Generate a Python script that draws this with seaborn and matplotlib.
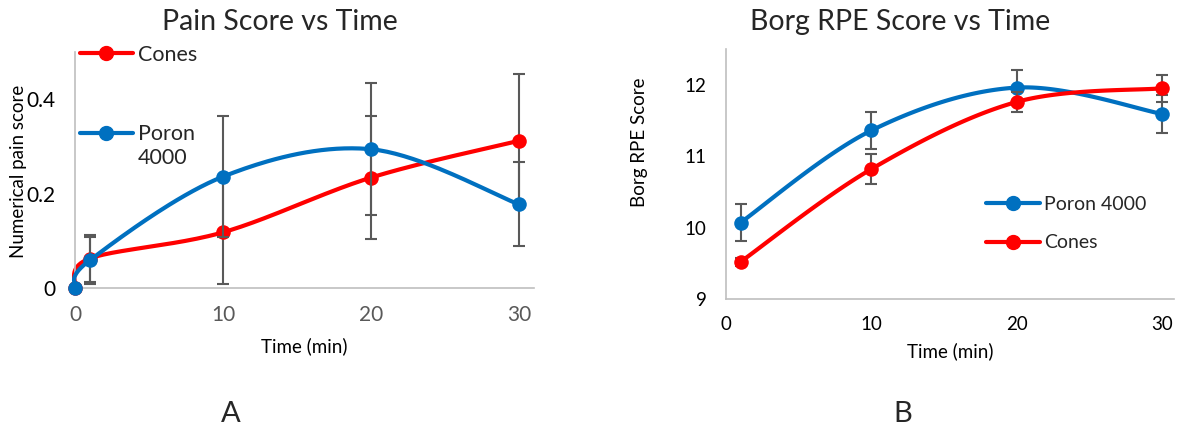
import numpy as np
import matplotlib
matplotlib.use("Agg")
import matplotlib.pyplot as plt
import seaborn as sns
from matplotlib.lines import Line2D
from matplotlib.legend_handler import HandlerLine2D

# ---- data ----
pain_time = [0, 1, 10, 20, 30]
pain_cones = [0, 0.0625, 0.118, 0.234, 0.312]
pain_cones_err = [0, 0.05, 0.11, 0.13, 0.141]
pain_poron = [0, 0.0588, 0.236, 0.294, 0.177]
pain_poron_err = [0, 0.05, 0.128, 0.14, 0.089]

borg_time = [1, 10, 20, 30]
borg_poron = [10.07, 11.36, 11.96, 11.59]
borg_poron_err = [0.26, 0.26, 0.25, 0.26]
borg_cones = [9.52, 10.82, 11.76, 11.95]
borg_cones_err = [0.06, 0.21, 0.14, 0.19]

RED = "#FF0000"
BLUE = "#0070C0"
ERR = "#595959"
SPINE = "#BFBFBF"

sns.set_theme(style="white")
plt.rcParams['font.family'] = ['Lato', 'DejaVu Sans']

W, H = 1185, 430


def px_axes(fig, left, top, right, bottom):
    return fig.add_axes([left / W, (H - bottom) / H, (right - left) / W, (bottom - top) / H])


def smooth(x, y, sx, sy, n=40):
    # Excel-style smoothed line: cubic bezier through points, built in screen units
    P = np.column_stack([np.asarray(x, float) * sx, np.asarray(y, float) * sy])
    pts = []
    for i in range(len(P) - 1):
        p0 = P[max(i - 1, 0)]
        p1, p2 = P[i], P[i + 1]
        p3 = P[min(i + 2, len(P) - 1)]
        c1 = p1 + (p2 - p0) / 6
        c2 = p2 - (p3 - p1) / 6
        t = np.linspace(0, 1, n)[:, None]
        seg = (1 - t) ** 3 * p1 + 3 * (1 - t) ** 2 * t * c1 + 3 * (1 - t) * t ** 2 * c2 + t ** 3 * p2
        pts.append(seg if i == 0 else seg[1:])
    pts = np.vstack(pts)
    return pts[:, 0] / sx, pts[:, 1] / sy


class ShiftedLine(HandlerLine2D):
    def __init__(self, shift, **kw):
        super().__init__(**kw)
        self.shift = shift

    def create_artists(self, legend, orig_handle, xdescent, ydescent, width, height, fontsize, trans):
        arts = super().create_artists(legend, orig_handle, xdescent, ydescent, width, height, fontsize, trans)
        for a in arts:
            a.set_ydata(np.asarray(a.get_ydata()) + self.shift)
        return arts


def draw_series(ax, x, y, err, color, sx, sy, z):
    xs, ys = smooth(x, y, sx, sy)
    sns.lineplot(x=xs, y=ys, ax=ax, color=color, lw=3, sort=False, estimator=None, zorder=z, clip_on=False)
    ax.errorbar(x, y, yerr=err, fmt='none', ecolor=ERR, elinewidth=1.5, capsize=4.3, capthick=1.5,
                zorder=z + 0.5, clip_on=False)
    sns.scatterplot(x=x, y=y, ax=ax, color=color, s=110, linewidth=0, zorder=z + 1, clip_on=False)


def style_axes(ax, tick_color_x, tick_color_y, fs):
    for s in ['top', 'right']:
        ax.spines[s].set_visible(False)
    for s in ['left', 'bottom']:
        ax.spines[s].set_color(SPINE)
        ax.spines[s].set_linewidth(1.2)
    ax.tick_params(axis='both', length=0, labelsize=fs)
    ax.tick_params(axis='x', colors=tick_color_x, pad=12)
    ax.tick_params(axis='y', colors=tick_color_y, pad=14)
    ax.grid(False)


fig = plt.figure(figsize=(W / 100, H / 100), dpi=100)

# ---------- A: pain score ----------
ax1 = px_axes(fig, 75, 52, 534, 288)
ax1.set_xlim(0, 31)
ax1.set_ylim(0, 0.5)
sx1 = (534 - 75) / 31
sy1 = (288 - 52) / 0.5
draw_series(ax1, pain_time, pain_cones, pain_cones_err, RED, sx1, sy1, 2)
draw_series(ax1, pain_time, pain_poron, pain_poron_err, BLUE, sx1, sy1, 5)
ax1.set_xticks([0, 10, 20, 30])
ax1.set_yticks([0, 0.2, 0.4])
ax1.set_yticklabels(['0', '0.2', '0.4'])
style_axes(ax1, ERR, 'black', 15)
ax1.set_xlabel('Time (min)', fontsize=13.5, color='black')
ax1.xaxis.set_label_coords(0.5, -0.245)
ax1.set_ylabel('Numerical pain score', fontsize=13.5, color='black')
ax1.yaxis.set_label_coords((19 - 75) / 459, (288 - 171) / 236)
ax1.yaxis.label.set_va('center')
ax1.xaxis.label.set_va('center')

h_cones = Line2D([], [], color=RED, lw=3, marker='o', markersize=10)
h_poron = Line2D([], [], color=BLUE, lw=3, marker='o', markersize=10)
lg_kw = dict(frameon=False, borderpad=0, borderaxespad=0, numpoints=1,
             bbox_transform=fig.transFigure, loc='center left')
leg_a1 = ax1.legend([h_cones], ['Cones'], fontsize=15.5, handlelength=2.45, handletextpad=0.25,
                    bbox_to_anchor=(80 / W, (H - 55) / H), **lg_kw)
ax1.add_artist(leg_a1)
ax1.legend([h_poron], ['Poron\n4000'], fontsize=15.5, handlelength=2.45, handletextpad=0.25,
           handler_map={h_poron: ShiftedLine(9.5)},
           bbox_to_anchor=(80 / W, (H - 146) / H), **lg_kw)

# ---------- B: Borg RPE ----------
ax2 = px_axes(fig, 726, 49, 1174, 299)
ax2.set_xlim(0, 30.8)
ax2.set_ylim(9, 12.5)
sx2 = (1174 - 726) / 30.8
sy2 = (299 - 49) / 3.5
draw_series(ax2, borg_time, borg_poron, borg_poron_err, BLUE, sx2, sy2, 2)
draw_series(ax2, borg_time, borg_cones, borg_cones_err, RED, sx2, sy2, 5)
ax2.set_xticks([0, 10, 20, 30])
ax2.set_yticks([9, 10, 11, 12])
style_axes(ax2, 'black', 'black', 13.5)
ax2.set_xlabel('Time (min)', fontsize=13.5, color='black')
ax2.xaxis.set_label_coords(0.5, -0.21)
ax2.xaxis.label.set_va('center')
ax2.set_ylabel('Borg RPE Score', fontsize=13.5, color='black')
ax2.yaxis.set_label_coords((639 - 726) / 448, (299 - 142) / 250)
ax2.yaxis.label.set_va('center')

leg_b1 = ax2.legend([h_poron], ['Poron 4000'], fontsize=14, handlelength=2.8, handletextpad=0.2,
                    bbox_to_anchor=(986 / W, (H - 204) / H), **lg_kw)
ax2.add_artist(leg_b1)
ax2.legend([h_cones], ['Cones'], fontsize=14, handlelength=2.8, handletextpad=0.2,
           bbox_to_anchor=(986 / W, (H - 243) / H), **lg_kw)

# titles and panel letters
fig.text(280 / W, (H - 22) / H, 'Pain Score vs Time', fontsize=20.5, ha='center', va='center')
fig.text(900 / W, (H - 22) / H, 'Borg RPE Score vs Time', fontsize=20.5, ha='center', va='center')
fig.text(231 / W, (H - 414) / H, 'A', fontsize=21, ha='center', va='center')
fig.text(903 / W, (H - 414) / H, 'B', fontsize=21, ha='center', va='center')

fig.savefig('out.png', dpi=100)
